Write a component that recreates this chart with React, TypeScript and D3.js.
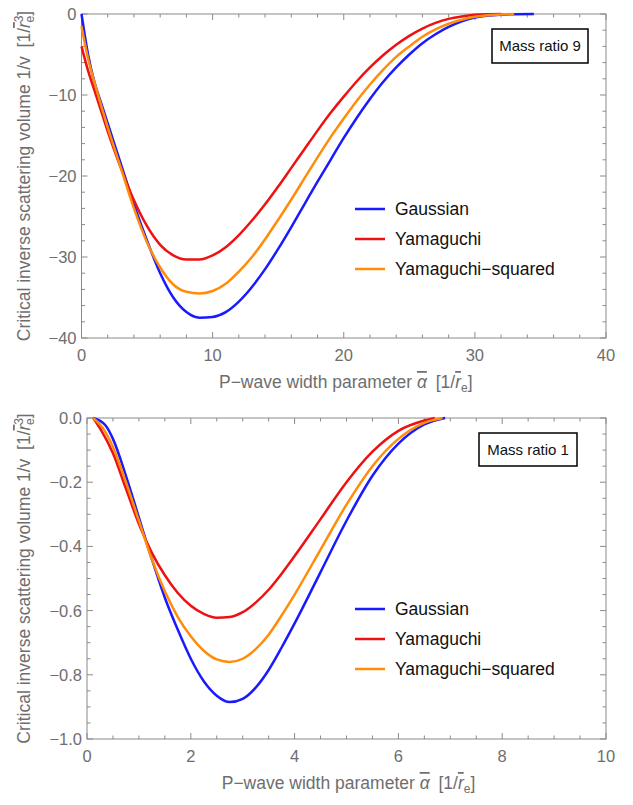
import React from 'react';
import * as d3 from 'd3';

// mass ratio 9 (top panel)
const x9Gauss = [0, 0.5, 1, 1.5, 2, 3, 4, 5, 6, 7, 8, 9, 10, 11, 12, 13, 14, 15, 16, 17, 18, 19, 20, 21, 22, 23, 24, 25, 26, 27, 28, 29, 30, 31, 32, 33, 34.5];
const y9Gauss = [0, -5, -8.5, -11, -13.5, -18.5, -23.5, -28, -32, -35, -36.8, -37.5, -37.4, -36.8, -35.5, -33.7, -31.5, -29, -26.3, -23.5, -20.7, -18, -15.3, -12.8, -10.5, -8.4, -6.6, -5, -3.6, -2.5, -1.6, -0.9, -0.45, -0.2, -0.08, -0.02, 0];

const x9Yama = [0, 0.5, 1, 1.5, 2, 3, 4, 5, 6, 7, 8, 9, 10, 11, 12, 13, 14, 15, 16, 17, 18, 19, 20, 21, 22, 23, 24, 25, 26, 27, 28, 29, 30, 31, 32];
const y9Yama = [-4, -7, -9.5, -12, -14.5, -19, -23, -26.2, -28.5, -29.8, -30.3, -30.3, -29.8, -28.8, -27.3, -25.5, -23.5, -21.3, -19, -16.7, -14.4, -12.2, -10.2, -8.3, -6.6, -5.1, -3.8, -2.7, -1.8, -1.1, -0.6, -0.3, -0.1, -0.03, 0];

const x9YamaSq = [0, 0.5, 1, 1.5, 2, 3, 4, 5, 6, 7, 8, 9, 10, 11, 12, 13, 14, 15, 16, 17, 18, 19, 20, 21, 22, 23, 24, 25, 26, 27, 28, 29, 30, 31, 32, 33];
const y9YamaSq = [-1.5, -5.5, -8.5, -11.3, -14, -19, -24, -28.2, -31.3, -33.4, -34.3, -34.5, -34.2, -33.3, -31.8, -30, -27.8, -25.4, -22.9, -20.3, -17.7, -15.2, -12.9, -10.7, -8.7, -6.9, -5.3, -4, -2.8, -1.9, -1.2, -0.7, -0.35, -0.15, -0.05, 0];

// mass ratio 1 (bottom panel)
const x1Gauss = [0.12, 0.35, 0.5, 0.75, 1, 1.25, 1.5, 1.75, 2, 2.25, 2.5, 2.75, 3, 3.25, 3.5, 3.75, 4, 4.5, 5, 5.5, 6, 6.5, 6.9];
const y1Gauss = [0, -0.022, -0.065, -0.18, -0.31, -0.44, -0.56, -0.66, -0.75, -0.82, -0.865, -0.885, -0.875, -0.84, -0.785, -0.715, -0.64, -0.48, -0.32, -0.18, -0.08, -0.02, 0];

const x1Yama = [0.12, 0.26, 0.5, 0.75, 1, 1.25, 1.5, 1.75, 2, 2.25, 2.5, 2.75, 3, 3.25, 3.5, 3.75, 4, 4.5, 5, 5.5, 6, 6.5, 6.7];
const y1Yama = [0, -0.035, -0.11, -0.22, -0.33, -0.42, -0.49, -0.545, -0.585, -0.61, -0.622, -0.62, -0.605, -0.575, -0.535, -0.485, -0.43, -0.315, -0.2, -0.105, -0.04, -0.008, 0];

const x1YamaSq = [0.12, 0.3, 0.5, 0.75, 1, 1.25, 1.5, 1.75, 2, 2.25, 2.5, 2.75, 3, 3.25, 3.5, 3.75, 4, 4.5, 5, 5.5, 6, 6.5, 6.85];
const y1YamaSq = [0, -0.03, -0.09, -0.2, -0.32, -0.44, -0.54, -0.62, -0.68, -0.725, -0.752, -0.76, -0.75, -0.72, -0.675, -0.615, -0.55, -0.41, -0.27, -0.15, -0.065, -0.015, 0];

const seriesNames = ['Gaussian', 'Yamaguchi', 'Yamaguchi\u2212squared'];
const seriesColors = ['#1a1aff', '#ee1111', '#ff8c0a'];

const FONT = '"Liberation Sans", Arial, sans-serif';
const GREY = '#6e6e6e';
const FRAME = '#8a8a8a';

type Series = { xs: number[]; ys: number[]; color: string };

type PanelProps = {
  box: { left: number; top: number; right: number; bottom: number };
  xDomain: [number, number];
  yDomain: [number, number];
  xMajor: number;
  xMinor: number;
  yMajor: number;
  yMinor: number;
  yFmt: (v: number) => string;
  series: Series[];
  legendY: number;
  tag: string;
  tagBox: { x: number; y: number; w: number; h: number };
};

const steps = (a: number, b: number, s: number) =>
  d3.range(0, Math.round((b - a) / s) + 1).map((i) => a + i * s);

function Panel(p: PanelProps) {
  const { left, top, right, bottom } = p.box;
  const x = d3.scaleLinear().domain(p.xDomain).range([left, right]);
  const y = d3.scaleLinear().domain(p.yDomain).range([bottom, top]);
  const line = d3
    .line<[number, number]>()
    .x((d) => x(d[0]))
    .y((d) => y(d[1]))
    .curve(d3.curveMonotoneX);

  const xMaj = steps(p.xDomain[0], p.xDomain[1], p.xMajor);
  const xMin = steps(p.xDomain[0], p.xDomain[1], p.xMinor);
  const yMaj = steps(p.yDomain[0], p.yDomain[1], p.yMajor);
  const yMin = steps(p.yDomain[0], p.yDomain[1], p.yMinor);
  const maj = 6;
  const mn = 3.5;
  const midY = (top + bottom) / 2;
  const fmtX = d3.format('d');

  return (
    <g>
      {/* frame + inward ticks on all four sides */}
      <rect x={left} y={top} width={right - left} height={bottom - top} fill="none" stroke={FRAME} strokeWidth={1} />
      {xMin.map((v, i) => {
        const len = xMaj.some((m) => Math.abs(m - v) < 1e-9) ? maj : mn;
        return (
          <g key={'xt' + i} stroke={FRAME} strokeWidth={1}>
            <line x1={x(v)} x2={x(v)} y1={bottom} y2={bottom - len} />
            <line x1={x(v)} x2={x(v)} y1={top} y2={top + len} />
          </g>
        );
      })}
      {yMin.map((v, i) => {
        const len = yMaj.some((m) => Math.abs(m - v) < 1e-9) ? maj : mn;
        return (
          <g key={'yt' + i} stroke={FRAME} strokeWidth={1}>
            <line x1={left} x2={left + len} y1={y(v)} y2={y(v)} />
            <line x1={right} x2={right - len} y1={y(v)} y2={y(v)} />
          </g>
        );
      })}
      {xMaj.map((v, i) => (
        <text key={'xl' + i} x={x(v)} y={bottom + 23} textAnchor="middle" fontSize={16.5} fill={GREY} fontFamily={FONT}>
          {fmtX(v)}
        </text>
      ))}
      {yMaj.map((v, i) => (
        <text key={'yl' + i} x={left - 5} y={y(v)} dy="0.36em" textAnchor="end" fontSize={16.5} fill={GREY} fontFamily={FONT}>
          {p.yFmt(v)}
        </text>
      ))}

      {/* axis labels */}
      <text x={(left + right) / 2 + 2} y={bottom + 50} textAnchor="middle" fontSize={17.5} fill={GREY} fontFamily={FONT}>
        {'P\u2212wave width parameter '}
        <tspan fontStyle="italic" style={{ textDecoration: 'overline' }}>{'\u03b1'}</tspan>
        {'\u2002[1/'}
        <tspan fontStyle="italic" style={{ textDecoration: 'overline' }}>r</tspan>
        <tspan fontSize={12} dy={4}>e</tspan>
        <tspan dy={-4}>]</tspan>
      </text>
      <text
        transform={`translate(30,${midY}) rotate(-90)`}
        textAnchor="middle"
        fontSize={17.5}
        fill={GREY}
        fontFamily={FONT}
      >
        {'Critical inverse scattering volume 1/v\u2002[1/'}
        <tspan fontStyle="italic" style={{ textDecoration: 'overline' }}>r</tspan>
        <tspan fontSize={12} dy={-7}>3</tspan>
        <tspan fontSize={12} dx={-7} dy={11}>e</tspan>
        <tspan dy={-4}>]</tspan>
      </text>

      {/* curves */}
      {p.series.map((s, i) => (
        <path
          key={'s' + i}
          d={line(s.xs.map((v, j) => [v, s.ys[j]] as [number, number])) || ''}
          fill="none"
          stroke={s.color}
          strokeWidth={2.5}
          strokeLinejoin="round"
        />
      ))}

      {/* legend */}
      {seriesNames.map((n, i) => (
        <g key={'lg' + i}>
          <line x1={355} x2={385} y1={p.legendY + i * 30} y2={p.legendY + i * 30} stroke={seriesColors[i]} strokeWidth={2.5} />
          <text x={395} y={p.legendY + i * 30} dy="0.36em" fontSize={17.5} fill="#111" fontFamily={FONT}>
            {n}
          </text>
        </g>
      ))}

      {/* label box */}
      <rect x={p.tagBox.x} y={p.tagBox.y} width={p.tagBox.w} height={p.tagBox.h} fill="#fff" stroke="#000" strokeWidth={1.5} />
      <text
        x={p.tagBox.x + p.tagBox.w / 2}
        y={p.tagBox.y + p.tagBox.h / 2}
        dy="0.36em"
        textAnchor="middle"
        fontSize={15}
        fill="#111"
        fontFamily={FONT}
      >
        {p.tag}
      </text>
    </g>
  );
}

export default function App() {
  const fmtInt = d3.format('d');
  const fmt1 = d3.format('.1f');
  return (
    <svg width={633} height={805} style={{ position: 'absolute', left: 0, top: 0, background: '#fff' }}>
      <Panel
        box={{ left: 81.5, top: 14, right: 606, bottom: 338 }}
        xDomain={[0, 40]}
        yDomain={[-40, 0]}
        xMajor={10}
        xMinor={2}
        yMajor={10}
        yMinor={2}
        yFmt={(v) => fmtInt(v)}
        series={[
          { xs: x9Gauss, ys: y9Gauss, color: seriesColors[0] },
          { xs: x9Yama, ys: y9Yama, color: seriesColors[1] },
          { xs: x9YamaSq, ys: y9YamaSq, color: seriesColors[2] },
        ]}
        legendY={209}
        tag="Mass ratio 9"
        tagBox={{ x: 492, y: 29, w: 96, h: 34 }}
      />
      <Panel
        box={{ left: 87, top: 418, right: 606, bottom: 739 }}
        xDomain={[0, 10]}
        yDomain={[-1, 0]}
        xMajor={2}
        xMinor={0.5}
        yMajor={0.2}
        yMinor={0.05}
        yFmt={(v) => fmt1(v)}
        series={[
          { xs: x1Gauss, ys: y1Gauss, color: seriesColors[0] },
          { xs: x1Yama, ys: y1Yama, color: seriesColors[1] },
          { xs: x1YamaSq, ys: y1YamaSq, color: seriesColors[2] },
        ]}
        legendY={609}
        tag="Mass ratio 1"
        tagBox={{ x: 479, y: 433, w: 98, h: 33 }}
      />
    </svg>
  );
}
